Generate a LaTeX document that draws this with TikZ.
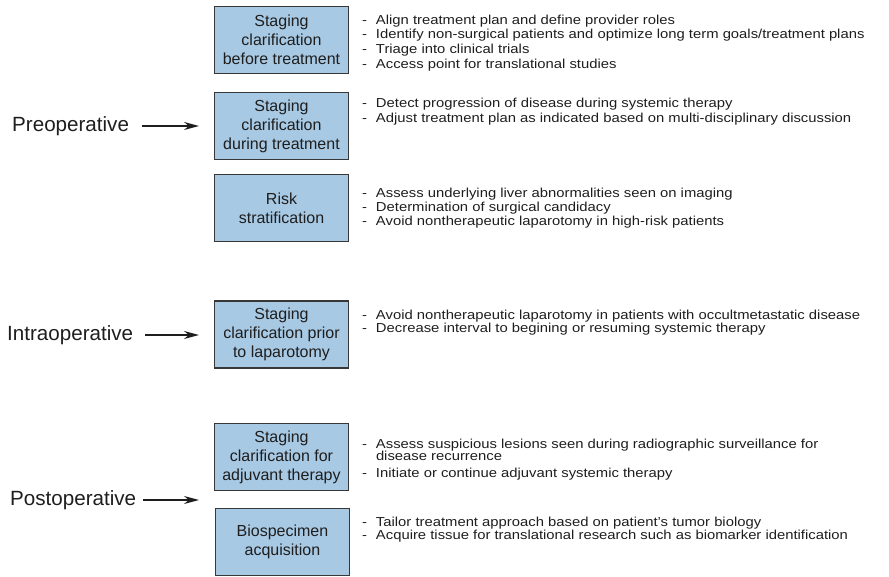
\documentclass[tikz,border=0pt]{standalone}
\usepackage{fontspec}
\setmainfont{Liberation Sans}
\newfontfamily\notefont[FakeStretch=1.14]{Liberation Sans}
\usetikzlibrary{arrows.meta}

\definecolor{boxblue}{RGB}{168,201,228}
\definecolor{boxline}{RGB}{55,55,55}
\definecolor{ink}{RGB}{30,30,30}

\newcommand{\itm}{\makebox[14pt][l]{-}}
\newcommand{\firstln}{\rule{0pt}{11pt}}

\begin{document}
\begin{tikzpicture}[x=1pt, y=-1pt, >={Stealth[length=15pt,width=8pt]},
  stagebox/.style={draw=boxline, fill=boxblue, line width=1.2pt, minimum width=134pt,
    minimum height=67pt, align=center, inner sep=0pt, text=ink,
    font=\fontsize{16}{19}\selectfont},
  notes/.style={anchor=north west, align=left, inner sep=0pt, outer sep=0pt, text=ink,
    font={\notefont\fontsize{13}{#1}\selectfont\lineskiplimit=-100pt}},
  phase/.style={anchor=west, inner sep=0pt, text=ink, font=\fontsize{20.6}{24}\selectfont},
  phasearrow/.style={->, line width=1.2pt, draw=ink}]

\useasboundingbox (0,0) rectangle (889,577);

% Stage boxes
\node[stagebox] (before) at (281.5,40) {Staging\\clarification\\before treatment};
\node[stagebox] (during) at (281.5,126) {Staging\\clarification\\during treatment};
\node[stagebox] (risk) at (281.5,208) {Risk\\stratification};
\node[stagebox] (prior) at (281.5,334.5) {Staging\\clarification prior\\to laparotomy};
\node[stagebox] (adjuvant) at (281.5,457) {Staging\\clarification for\\adjuvant therapy};
\node[stagebox] (biospec) at (282.5,542) {Biospecimen\\acquisition};

% Notes beside the boxes
\node[notes=14.67] (beforenotes) at (362,13.3) {\firstln\itm Align treatment plan and define provider roles\\
  \itm Identify non-surgical patients and optimize long term goals/treatment plans\\
  \itm Triage into clinical trials\\
  \itm Access point for translational studies};
\node[notes=14.6] (duringnotes) at (362,96.7) {\firstln\itm Detect progression of disease during systemic therapy\\
  \itm Adjust treatment plan as indicated based on multi-disciplinary discussion};
\node[notes=13.9] (risknotes) at (362,186.3) {\firstln\itm Assess underlying liver abnormalities seen on imaging\\
  \itm Determination of surgical candidacy\\
  \itm Avoid nontherapeutic laparotomy in high-risk patients};
\node[notes=13.6] (priornotes) at (362,308.3) {\firstln\itm Avoid nontherapeutic laparotomy in patients with occultmetastatic disease\\
  \itm Decrease interval to begining or resuming systemic therapy};
\node[notes=12.2] (adjuvantnotes) at (362,437.3) {\firstln\itm Assess suspicious lesions seen during radiographic surveillance for\\
  \hspace*{14pt}disease recurrence\\[4.5pt]
  \itm Initiate or continue adjuvant systemic therapy};
\node[notes=12.3] (biospecnotes) at (362,515.7) {\firstln\itm Tailor treatment approach based on patient’s tumor biology\\
  \itm Acquire tissue for translational research such as biomarker identification};

% Phases and arrows
\node[phase] (preop) at (12,126) {Preoperative};
\coordinate (preoptip) at (199,126);
\draw[phasearrow, shorten <=13pt] (preop) -- (preoptip);

\node[phase] (intraop) at (7,335) {Intraoperative};
\coordinate (intraoptip) at (199,335);
\draw[phasearrow, shorten <=12pt] (intraop) -- (intraoptip);

\node[phase] (postop) at (10,500) {Postoperative};
\coordinate (postoptip) at (199,500);
\draw[phasearrow, shorten <=7pt] (postop) -- (postoptip);

\end{tikzpicture}
\end{document}
